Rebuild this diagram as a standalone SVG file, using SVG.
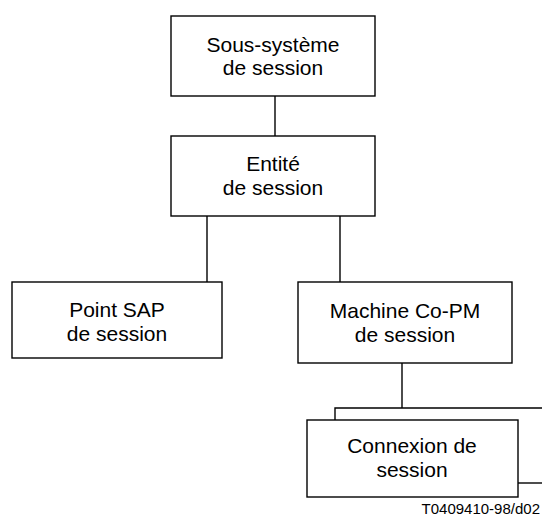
<svg xmlns="http://www.w3.org/2000/svg" width="542" height="519" viewBox="0 0 542 519">
<style>
.box{fill:#fff;stroke:#000;stroke-width:1.4}
.ln{fill:none;stroke:#000;stroke-width:1.4}
text{font-family:"Liberation Sans",Arial,sans-serif;font-size:21px;fill:#000;text-anchor:middle}
.cap{font-size:15px;text-anchor:end}
</style>
<rect width="542" height="519" fill="#fff"/>
<g id="connectors">
<path class="ln" d="M275,96V136"/>
<path class="ln" d="M207,216V282"/>
<path class="ln" d="M340,216V282"/>
<path class="ln" d="M402,363V408"/>
<path class="ln" d="M335,420V408H542"/>
<path class="ln" d="M518,483H542"/>
</g>
<g id="n1">
<rect class="box" x="171" y="16" width="204" height="80"/>
<text x="273" y="52">Sous-système</text>
<text x="273" y="75">de session</text>
</g>
<g id="n2">
<rect class="box" x="171" y="136" width="204" height="80"/>
<text x="273" y="171">Entité</text>
<text x="273" y="195">de session</text>
</g>
<g id="n3">
<rect class="box" x="12" y="282" width="210" height="76"/>
<text x="117" y="317">Point SAP</text>
<text x="117" y="341">de session</text>
</g>
<g id="n4">
<rect class="box" x="298" y="282" width="214" height="81"/>
<text x="405" y="318">Machine Co-PM</text>
<text x="405" y="342">de session</text>
</g>
<g id="n5">
<rect class="box" x="307" y="420" width="211" height="77"/>
<text x="412" y="453">Connexion de</text>
<text x="412" y="477">session</text>
</g>
<text class="cap" x="540" y="514">T0409410-98/d02</text>
</svg>
